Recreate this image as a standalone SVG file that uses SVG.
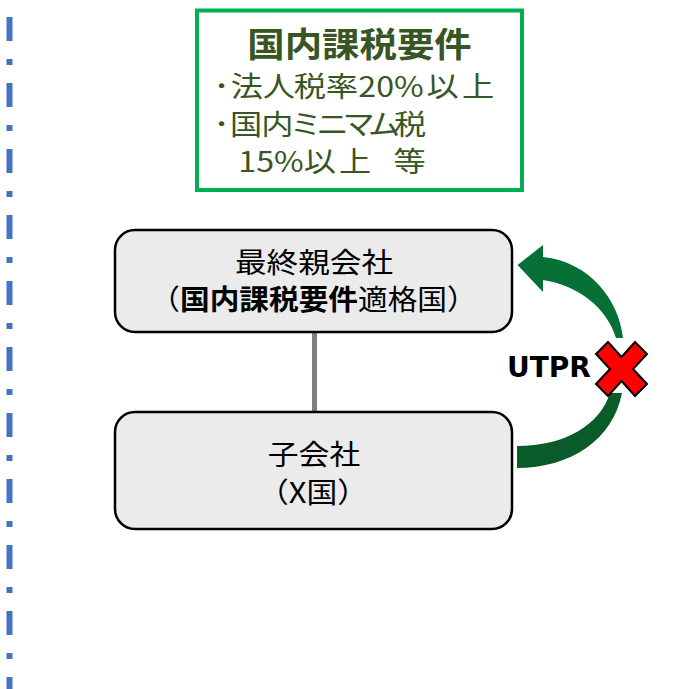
<svg xmlns="http://www.w3.org/2000/svg" width="676" height="689" viewBox="0 0 676 689">
<style>
.jp{font-family:"Noto Sans CJK JP","Noto Sans",sans-serif;}
.g{fill:#375623;font-size:28px;}
.node{fill:#EBEBEB;stroke:#000;stroke-width:2.5;}
.nt{fill:#000;font-size:28px;text-anchor:middle;}
</style>
<line x1="9.5" y1="17" x2="9.5" y2="689" stroke="#4472C4" stroke-width="6" stroke-dasharray="24 18 6 18"/>
<g id="requirements">
<rect x="197" y="10.5" width="325" height="179.5" fill="#fff" stroke="#00B050" stroke-width="4"/>
<text class="jp" x="359.5" y="57" fill="#375623" font-size="34" font-weight="bold" text-anchor="middle" transform="matrix(1.1 0 0 1 -35.95 0)">国内課税要件</text>
<g transform="matrix(1.15 0 0 1 -34.8 0)">
<text class="jp g" y="97"><tspan x="216">･</tspan><tspan x="231 258.8 285.7 313.6">法人税率</tspan><tspan x="341.8">20%</tspan><tspan x="401.1 432">以上</tspan></text>
<text class="jp g" y="135"><tspan x="216">･</tspan><tspan x="230.2 257.5 282.3 305.4 328 350.2 372.8">国内ミニマム税</tspan></text>
<text class="jp g" y="172"><tspan x="237.5">15%</tspan><tspan x="294.5 325">以上</tspan><tspan x="372.4">等</tspan></text>
</g>
</g>
<g id="connectors">
<line x1="314.5" y1="332" x2="314.5" y2="412" stroke="#808080" stroke-width="5"/>
<path d="M623,338 C619,300 590,262 543,257 L543,245 L517.5,265 L543,292 L543,280 C578,285 607,308 616,338 Z" fill="#077036"/>
<path d="M622,393 C613,440 570,468 517,468 L517,446 C565,446 600,425 610,393 Z" fill="#0A5B2A"/>
</g>
<g id="parent">
<rect class="node" x="115" y="230" width="397" height="102" rx="20"/>
<text class="jp nt" x="314" y="273" transform="matrix(1.13 0 0 1 -40.82 0)">最終親会社</text>
<text class="jp nt" x="313.5" y="310" transform="matrix(1.06 0 0 1 -18.81 0)">（<tspan font-weight="bold">国内課税要件</tspan>適格国）</text>
</g>
<g id="child">
<rect class="node" x="115" y="412" width="397" height="117" rx="20"/>
<text class="jp nt" x="314" y="465" transform="matrix(1.1 0 0 1 -31.4 0)">子会社</text>
<text class="jp nt" x="313" y="503" transform="matrix(1.1 0 0 1 -31.3 0)">（X国）</text>
</g>
<g id="utpr">
<text x="507" y="377" font-family="DejaVu Sans" font-weight="bold" font-size="28" fill="#000">UTPR</text>
<polygon points="608,342 621.5,357 635,342 647,354 633,369 647,384 635,396 621.5,381 608,396 596,384 610,369 596,354" fill="#FF0000" stroke="#000" stroke-width="2" stroke-linejoin="miter"/>
</g>
</svg>
